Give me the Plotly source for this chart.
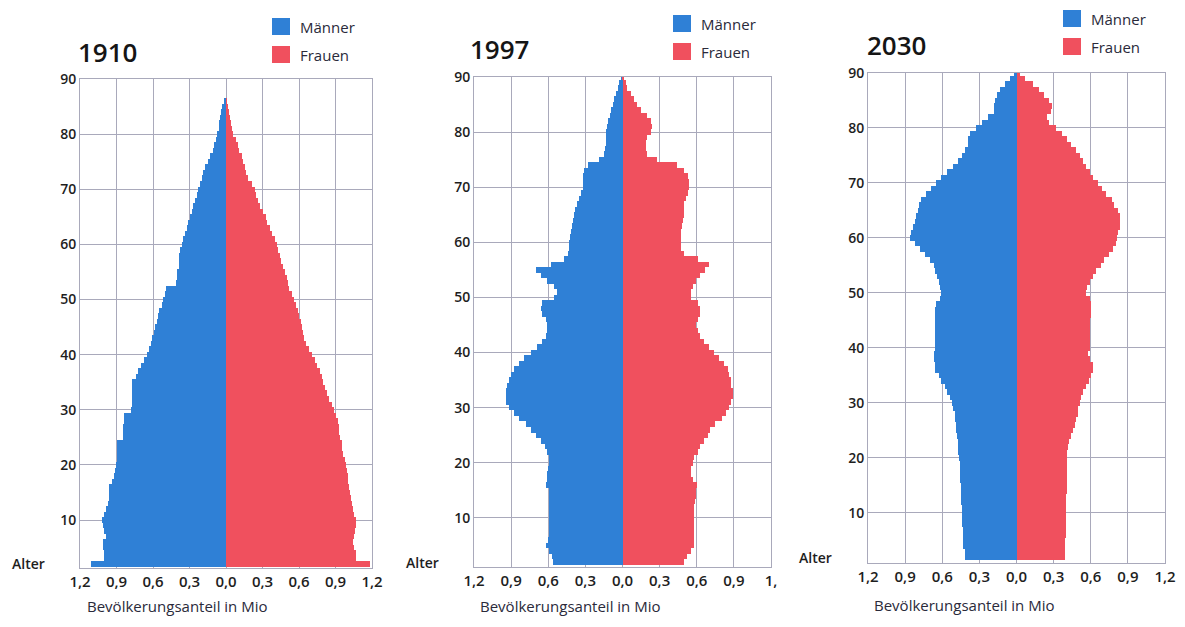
import plotly.graph_objects as go

# ---------------- data ----------------
ages = list(range(2, 91))

men_1910 = [1.11, 1.00, 1.00, 1.01, 1.01, 0.99, 1.00, 1.01, 1.02, 1.00,
            0.99, 0.97, 0.965, 0.96, 0.96, 0.94, 0.92, 0.91, 0.905, 0.90,
            0.90, 0.90, 0.90, 0.85, 0.85, 0.845, 0.84, 0.84, 0.78, 0.775,
            0.77, 0.77, 0.77, 0.77, 0.74, 0.72, 0.70, 0.675, 0.65, 0.635,
            0.62, 0.61, 0.59, 0.58, 0.57, 0.56, 0.55, 0.53, 0.52, 0.50,
            0.49, 0.41, 0.40, 0.40, 0.39, 0.39, 0.39, 0.375, 0.36, 0.35,
            0.335, 0.32, 0.31, 0.30, 0.28, 0.27, 0.255, 0.24, 0.23, 0.215,
            0.20, 0.185, 0.17, 0.15, 0.13, 0.11, 0.095, 0.08, 0.07, 0.06,
            0.055, 0.05, 0.04, 0.03, 0.01, 0.0, 0.0, 0.0, 0.0]
women_1910 = [1.18, 1.07, 1.07, 1.055, 1.04, 1.05, 1.06, 1.065, 1.07, 1.055,
              1.04, 1.035, 1.03, 1.02, 1.01, 1.005, 1.00, 0.995, 0.99, 0.975,
              0.96, 0.955, 0.95, 0.94, 0.93, 0.925, 0.92, 0.905, 0.89, 0.87,
              0.85, 0.83, 0.81, 0.80, 0.79, 0.77, 0.75, 0.73, 0.71, 0.685,
              0.66, 0.645, 0.63, 0.625, 0.62, 0.60, 0.59, 0.575, 0.56, 0.54,
              0.52, 0.51, 0.50, 0.485, 0.47, 0.455, 0.44, 0.43, 0.42, 0.40,
              0.38, 0.36, 0.34, 0.33, 0.30, 0.28, 0.265, 0.25, 0.24, 0.21,
              0.18, 0.165, 0.155, 0.14, 0.13, 0.11, 0.10, 0.08, 0.06, 0.05,
              0.045, 0.035, 0.025, 0.015, 0.005, 0.0, 0.0, 0.0, 0.0]

men_1997 = [0.56, 0.57, 0.59, 0.62, 0.60, 0.59, 0.59, 0.59, 0.59, 0.59,
            0.59, 0.59, 0.59, 0.59, 0.62, 0.61, 0.61, 0.60, 0.59, 0.59,
            0.61, 0.63, 0.66, 0.70, 0.74, 0.78, 0.84, 0.88, 0.92, 0.94,
            0.94, 0.94, 0.93, 0.92, 0.90, 0.88, 0.84, 0.80, 0.74, 0.69,
            0.65, 0.62, 0.61, 0.61, 0.62, 0.65, 0.66, 0.65, 0.55, 0.53,
            0.55, 0.61, 0.66, 0.70, 0.58, 0.47, 0.44, 0.435, 0.43, 0.425,
            0.42, 0.41, 0.40, 0.39, 0.38, 0.365, 0.35, 0.335, 0.32, 0.32,
            0.32, 0.31, 0.28, 0.19, 0.15, 0.14, 0.13, 0.13, 0.13, 0.125,
            0.12, 0.105, 0.09, 0.08, 0.07, 0.055, 0.04, 0.025, 0.01]
women_1997 = [0.50, 0.52, 0.55, 0.58, 0.58, 0.58, 0.58, 0.58, 0.58, 0.58,
              0.58, 0.585, 0.59, 0.595, 0.60, 0.57, 0.55, 0.55, 0.57, 0.58,
              0.61, 0.63, 0.66, 0.69, 0.71, 0.75, 0.80, 0.84, 0.86, 0.88,
              0.89, 0.89, 0.88, 0.88, 0.86, 0.85, 0.82, 0.78, 0.74, 0.70,
              0.66, 0.63, 0.61, 0.59, 0.61, 0.63, 0.63, 0.61, 0.55, 0.55,
              0.57, 0.59, 0.63, 0.67, 0.70, 0.61, 0.50, 0.47, 0.47, 0.47,
              0.47, 0.48, 0.49, 0.495, 0.50, 0.50, 0.51, 0.53, 0.54, 0.54,
              0.53, 0.50, 0.44, 0.28, 0.20, 0.19, 0.19, 0.20, 0.23, 0.24,
              0.23, 0.20, 0.15, 0.12, 0.09, 0.07, 0.04, 0.025, 0.01]

men_2030 = [0.42, 0.42, 0.43, 0.43, 0.43, 0.435, 0.44, 0.44, 0.44, 0.44,
            0.445, 0.445, 0.45, 0.45, 0.455, 0.455, 0.46, 0.46, 0.465, 0.47,
            0.47, 0.475, 0.48, 0.485, 0.49, 0.495, 0.50, 0.51, 0.52, 0.54,
            0.56, 0.58, 0.61, 0.63, 0.655, 0.66, 0.665, 0.665, 0.66, 0.66,
            0.66, 0.66, 0.66, 0.655, 0.655, 0.655, 0.65, 0.62, 0.61, 0.62,
            0.63, 0.64, 0.655, 0.67, 0.70, 0.74, 0.78, 0.82, 0.86, 0.85,
            0.84, 0.82, 0.81, 0.80, 0.79, 0.77, 0.73, 0.69, 0.65, 0.61,
            0.565, 0.51, 0.47, 0.44, 0.42, 0.39, 0.39, 0.375, 0.33, 0.28,
            0.23, 0.18, 0.18, 0.17, 0.16, 0.13, 0.09, 0.05, 0.02]
women_2030 = [0.395, 0.395, 0.395, 0.395, 0.397, 0.398, 0.40, 0.40, 0.40, 0.40,
              0.40, 0.403, 0.405, 0.405, 0.405, 0.407, 0.408, 0.41, 0.41, 0.41,
              0.42, 0.425, 0.44, 0.455, 0.47, 0.48, 0.495, 0.50, 0.51, 0.52,
              0.535, 0.56, 0.585, 0.60, 0.62, 0.62, 0.59, 0.58, 0.59, 0.595,
              0.595, 0.595, 0.595, 0.595, 0.60, 0.60, 0.60, 0.59, 0.56, 0.57,
              0.59, 0.62, 0.64, 0.68, 0.71, 0.75, 0.78, 0.80, 0.81, 0.82,
              0.835, 0.84, 0.84, 0.82, 0.79, 0.77, 0.725, 0.69, 0.66, 0.62,
              0.59, 0.56, 0.535, 0.51, 0.48, 0.44, 0.41, 0.37, 0.32, 0.26,
              0.25, 0.28, 0.285, 0.26, 0.22, 0.18, 0.13, 0.07, 0.03]

years = ["1910", "1997", "2030"]
men_series = [men_1910, men_1997, men_2030]
women_series = [women_1910, women_1997, women_2030]

x_tickvals = [-1.2, -0.9, -0.6, -0.3, 0.0, 0.3, 0.6, 0.9, 1.2]
x_ticktext = ["1,2", "0,9", "0,6", "0,3", "0,0", "0,3", "0,6", "0,9", "1,2"]
x_ticktext_1997 = ["1,2", "0,9", "0,6", "0,3", "0,0", "0,3", "0,6", "0,9", "1,"]
y_tickvals = [10, 20, 30, 40, 50, 60, 70, 80, 90]

legend_labels = ["Männer", "Frauen"]
age_label = "Alter"
x_title = "Bevölkerungsanteil in Mio"

# ---------------- layout helpers ----------------
# the page body has an 8px margin, so the figure sits at (8, 8) in the window
OX, OY = 8, 8
W, H = 1185 - 2 * OX, 627 - 2 * OY
BLUE = "#2f80d6"
RED = "#f0505e"
GRID = "#a9a9bb"
TXT = "#1e1e1e"
FONT = "Open Sans"


def px(x):
    return (x - OX) / W


def py(y):
    return 1 - (y - OY) / H


# panel pixel boxes (window pixels): left, right, top, bottom, y-range bottom
panels = [
    dict(l=80, r=372, t=79, b=568, ymin=1.3, title_x=76, title_y=52,
         leg_x=272, leg_y=18, alter=(28, 563), xt=(85, 606)),
    dict(l=474, r=771, t=77, b=567, ymin=1.1, title_x=468, title_y=49,
         leg_x=673, leg_y=15, alter=(422, 562), xt=(478, 606)),
    dict(l=868, r=1165, t=73, b=563, ymin=0.9, title_x=865, title_y=45,
         leg_x=1063, leg_y=10, alter=(815, 557), xt=(872, 605)),
]

fig = go.Figure()
layout = dict(
    template="none",
    width=W, height=H, autosize=False,
    margin=dict(l=0, r=0, t=0, b=0, pad=0, autoexpand=False),
    paper_bgcolor="white", plot_bgcolor="white",
    barmode="overlay", bargap=0,
    showlegend=False,
    font=dict(family=FONT, color=TXT),
)
annotations = []
shapes = []

for i, (yr, men, women, p) in enumerate(zip(years, men_series, women_series, panels)):
    sfx = "" if i == 0 else str(i + 1)
    fig.add_trace(go.Bar(
        y=ages, x=[-v for v in men], orientation="h", width=1,
        marker=dict(color=BLUE, line=dict(width=0)),
        name=legend_labels[0], customdata=men,
        hovertemplate="Alter %{y}: %{customdata} Mio<extra>Männer " + yr + "</extra>",
        xaxis="x" + sfx, yaxis="y" + sfx,
    ))
    fig.add_trace(go.Bar(
        y=ages, x=women, orientation="h", width=1,
        marker=dict(color=RED, line=dict(width=0)),
        name=legend_labels[1],
        hovertemplate="Alter %{y}: %{x} Mio<extra>Frauen " + yr + "</extra>",
        xaxis="x" + sfx, yaxis="y" + sfx,
    ))
    layout["xaxis" + sfx] = dict(
        domain=[px(p["l"]), px(p["r"])], anchor="y" + sfx,
        range=[-1.2, 1.2], tickvals=x_tickvals,
        ticktext=x_ticktext_1997 if yr == "1997" else x_ticktext,
        showgrid=True, gridcolor=GRID, gridwidth=1, zeroline=False,
        showline=True, mirror=True, linecolor=GRID, linewidth=1,
        ticks="", fixedrange=True, automargin=False,
        tickfont=dict(family=FONT, size=15, color=TXT, weight=600),
    )
    layout["yaxis" + sfx] = dict(
        domain=[py(p["b"]), py(p["t"])], anchor="x" + sfx,
        range=[p["ymin"], 90], tickvals=y_tickvals,
        showgrid=True, gridcolor=GRID, gridwidth=1, zeroline=False,
        showline=True, mirror=True, linecolor=GRID, linewidth=1,
        ticks="", fixedrange=True, automargin=False,
        tickfont=dict(family=FONT, size=14, color=TXT, weight=600),
    )
    # title (year)
    annotations.append(dict(
        text=yr, xref="paper", yref="paper", x=px(p["title_x"]), y=py(p["title_y"]),
        xanchor="left", yanchor="middle", showarrow=False,
        font=dict(family=FONT, size=26, color="#151515", weight=600),
    ))
    # legend squares + labels
    for k, (lab, col) in enumerate(zip(legend_labels, [BLUE, RED])):
        top = p["leg_y"] + k * 28
        shapes.append(dict(
            type="rect", xref="paper", yref="paper",
            x0=px(p["leg_x"]), x1=px(p["leg_x"] + 18),
            y0=py(top + 17), y1=py(top),
            fillcolor=col, line=dict(width=0),
        ))
        annotations.append(dict(
            text=lab, xref="paper", yref="paper",
            x=px(p["leg_x"] + 26), y=py(top + 9),
            xanchor="left", yanchor="middle", showarrow=False,
            font=dict(family=FONT, size=15, color="#2a2a3a"),
        ))
    # "Alter"
    annotations.append(dict(
        text=age_label, xref="paper", yref="paper",
        x=px(p["alter"][0]), y=py(p["alter"][1]),
        xanchor="center", yanchor="middle", showarrow=False,
        font=dict(family=FONT, size=14, color=TXT, weight=600),
    ))
    # x-axis title
    annotations.append(dict(
        text=x_title, xref="paper", yref="paper",
        x=px(p["xt"][0]), y=py(p["xt"][1]),
        xanchor="left", yanchor="middle", showarrow=False,
        font=dict(family=FONT, size=15, color="#2a2a3a"),
    ))

layout["annotations"] = annotations
layout["shapes"] = shapes
fig.update_layout(**layout)
fig.write_html("out.html")
